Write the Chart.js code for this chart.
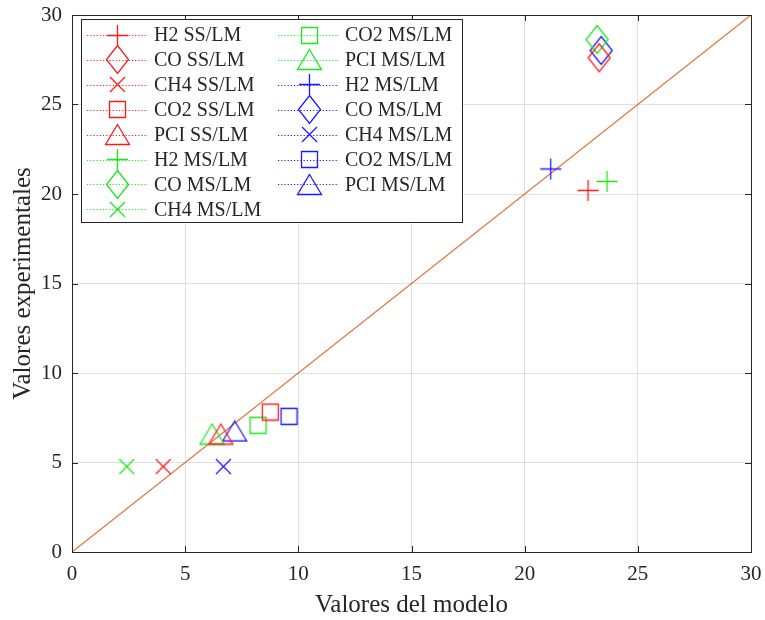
<!DOCTYPE html>
<html>
<head>
<meta charset="utf-8">
<title>Valores experimentales vs. valores del modelo</title>
<script src="https://cdn.jsdelivr.net/npm/chart.js@4.4.1/dist/chart.umd.min.js"></script>
<style>
  html, body { margin: 0; padding: 0; background: #fff; }
  #wrap { width: 765px; height: 620px; }
</style>
</head>
<body>
<div id="wrap"><canvas id="chart-scatter" width="765" height="620"></canvas></div>
<script>
// Series, in legend order
const seriesLabels = [
  'H2 SS/LM', 'CO SS/LM', 'CH4 SS/LM', 'CO2 SS/LM', 'PCI SS/LM',
  'H2 MS/LM', 'CO MS/LM', 'CH4 MS/LM', 'CO2 MS/LM', 'PCI MS/LM',
  'H2 MS/LM', 'CO MS/LM', 'CH4 MS/LM', 'CO2 MS/LM', 'PCI MS/LM'
];
// x: model value, y: experimental value
const modelValues = [22.8, 23.29, 4.03, 8.76, 6.58, 23.64, 23.2, 2.42, 8.22, 6.19, 21.15, 23.38, 6.69, 9.59, 7.19];
const expValues   = [20.2, 27.61, 4.77, 7.82, 6.59, 20.7, 28.63, 4.77, 7.08, 6.59, 21.4, 28.02, 4.77, 7.58, 6.76];
const seriesColors = [
  'red', 'red', 'red', 'red', 'red',
  'green', 'green', 'green', 'green', 'green',
  'blue', 'blue', 'blue', 'blue', 'blue'
];
const seriesMarkers = [
  'plus', 'diamond', 'x', 'square', 'triangle',
  'plus', 'diamond', 'x', 'square', 'triangle',
  'plus', 'diamond', 'x', 'square', 'triangle'
];
// y = x reference line
const diagonalX = [0, 30];
const diagonalY = [0, 30];
const axisTicks = [0, 5, 10, 15, 20, 25, 30];

const palette = {
  red: '#ff1a1a',
  green: '#1ae81a',
  blue: '#1a1aff',
  diagonal: '#e2763f',
  axis: '#262626',
  grid: '#dfdfdf'
};
const serif = "'Liberation Serif', 'Times New Roman', serif";

/**
 * Build a small canvas with a MATLAB-like marker to use as pointStyle
 */
function makeMarker(shape, color) {
  const c = document.createElement('canvas');
  const sizes = { plus: [23, 23], diamond: [25, 31], x: [17, 17], square: [19, 19], triangle: [27, 23] };
  const [w, h] = sizes[shape];
  c.width = w;
  c.height = h;
  const g = c.getContext('2d');
  g.strokeStyle = color;
  g.lineWidth = 1.3;
  g.beginPath();
  if (shape === 'plus') {
    g.moveTo(1, 11.5); g.lineTo(22, 11.5);
    g.moveTo(11.5, 1); g.lineTo(11.5, 22);
  } else if (shape === 'diamond') {
    g.moveTo(12.5, 1.5); g.lineTo(23.5, 15.5); g.lineTo(12.5, 29.5); g.lineTo(1.5, 15.5); g.closePath();
  } else if (shape === 'x') {
    g.moveTo(1, 1); g.lineTo(16, 16);
    g.moveTo(16, 1); g.lineTo(1, 16);
  } else if (shape === 'square') {
    g.rect(1.5, 1.5, 16, 16);
  } else if (shape === 'triangle') {
    g.moveTo(13.5, 1.5); g.lineTo(25.5, 21.5); g.lineTo(1.5, 21.5); g.closePath();
  }
  g.stroke();
  return c;
}

/**
 * Box, inward ticks on all four sides (MATLAB style)
 */
const axesBoxPlugin = {
  id: 'axesBox',
  afterDatasetsDraw(chart) {
    const ctx = chart.ctx;
    const a = chart.chartArea;
    const xs = chart.scales.x, ys = chart.scales.y;
    ctx.save();
    ctx.strokeStyle = palette.axis;
    ctx.lineWidth = 1;
    ctx.beginPath();
    axisTicks.forEach(function(v) {
      const px = Math.round(xs.getPixelForValue(v)) + 0.5;
      const py = Math.round(ys.getPixelForValue(v)) + 0.5;
      ctx.moveTo(px, a.bottom); ctx.lineTo(px, a.bottom - 6);
      ctx.moveTo(px, a.top); ctx.lineTo(px, a.top + 6);
      ctx.moveTo(a.left, py); ctx.lineTo(a.left + 6, py);
      ctx.moveTo(a.right, py); ctx.lineTo(a.right - 6, py);
    });
    ctx.stroke();
    ctx.strokeRect(Math.round(a.left) + 0.5, Math.round(a.top) + 0.5,
      Math.round(a.right - a.left), Math.round(a.bottom - a.top));
    ctx.restore();
  }
};

/**
 * Legend drawn inside the axes, two columns
 */
const boxLegendPlugin = {
  id: 'boxLegend',
  afterDraw(chart) {
    const ctx = chart.ctx;
    const a = chart.chartArea;
    const bx = Math.round(a.left) + 9, by = Math.round(a.top) + 4;
    const bw = 381, bh = 203, rowH = 24.9, perCol = 8;
    const cols = [
      { lineFrom: 6, lineTo: 67, mark: 36.7, text: 73 },
      { lineFrom: 197, lineTo: 258, mark: 228.3, text: 264 }
    ];
    ctx.save();
    ctx.fillStyle = '#fff';
    ctx.fillRect(bx, by, bw, bh);
    ctx.strokeStyle = palette.axis;
    ctx.lineWidth = 1;
    ctx.strokeRect(bx + 0.5, by + 0.5, bw, bh);
    ctx.font = '20px ' + serif;
    ctx.textBaseline = 'middle';
    ctx.textAlign = 'left';
    chart.data.datasets.forEach(function(ds, i) {
      if (!ds.inLegend) return;
      const col = cols[Math.floor(i / perCol)];
      const y = by + 16 + (i % perCol) * rowH;
      ctx.strokeStyle = ds.borderColor;
      ctx.setLineDash([1.2, 2]);
      ctx.beginPath();
      ctx.moveTo(bx + col.lineFrom, Math.round(y) + 0.5);
      ctx.lineTo(bx + col.lineTo, Math.round(y) + 0.5);
      ctx.stroke();
      ctx.setLineDash([]);
      const img = ds.pointStyle;
      ctx.drawImage(img, Math.round(bx + col.mark - img.width / 2), Math.round(y - img.height / 2));
      ctx.fillStyle = palette.axis;
      ctx.fillText(ds.label, bx + col.text, y + 1);
    });
    ctx.restore();
  }
};

function initScatterChart() {
  const el = document.getElementById('chart-scatter');
  if (!el) return;

  const datasets = seriesLabels.map(function(label, i) {
    const color = palette[seriesColors[i]];
    return {
      label: label,
      data: [{ x: modelValues[i], y: expValues[i] }],
      pointStyle: makeMarker(seriesMarkers[i], color),
      pointRadius: 5,
      pointHoverRadius: 5,
      borderColor: color,
      backgroundColor: 'transparent',
      showLine: false,
      inLegend: true
    };
  });

  datasets.push({
    type: 'line',
    label: 'y = x',
    data: diagonalX.map(function(x, i) { return { x: x, y: diagonalY[i] }; }),
    borderColor: palette.diagonal,
    borderWidth: 1.3,
    pointRadius: 0,
    fill: false,
    inLegend: false
  });

  window.scatterChart = new Chart(el, {
    type: 'scatter',
    data: { datasets: datasets },
    options: {
      responsive: false,
      animation: false,
      devicePixelRatio: 1,
      layout: { padding: { top: 15, right: 14, bottom: 0, left: 0 } },
      plugins: {
        legend: { display: false },
        tooltip: { enabled: false }
      },
      scales: {
        x: {
          type: 'linear',
          min: 0,
          max: 30,
          afterFit: function(scale) {
            scale.height = 68;
            scale.paddingLeft = 0;
            scale.paddingRight = 0;
          },
          afterBuildTicks: function(scale) {
            scale.ticks = axisTicks.map(function(v) { return { value: v }; });
          },
          ticks: {
            color: palette.axis,
            font: { family: serif, size: 21 },
            padding: 10,
            maxRotation: 0
          },
          grid: { color: palette.grid, drawTicks: false },
          border: { display: false },
          title: {
            display: true,
            text: 'Valores del modelo',
            color: palette.axis,
            font: { family: serif, size: 25 },
            padding: { top: 0, bottom: 0 }
          }
        },
        y: {
          type: 'linear',
          min: 0,
          max: 30,
          afterFit: function(scale) {
            scale.width = 72;
            scale.paddingTop = 0;
            scale.paddingBottom = 0;
          },
          afterBuildTicks: function(scale) {
            scale.ticks = axisTicks.map(function(v) { return { value: v }; });
          },
          ticks: {
            color: palette.axis,
            font: { family: serif, size: 21 },
            padding: 10
          },
          grid: { color: palette.grid, drawTicks: false },
          border: { display: false },
          title: {
            display: true,
            text: 'Valores experimentales',
            color: palette.axis,
            font: { family: serif, size: 25 },
            padding: { top: 8, bottom: 0 }
          }
        }
      }
    },
    plugins: [axesBoxPlugin, boxLegendPlugin]
  });
}

document.addEventListener('DOMContentLoaded', initScatterChart);
</script>
</body>
</html>
